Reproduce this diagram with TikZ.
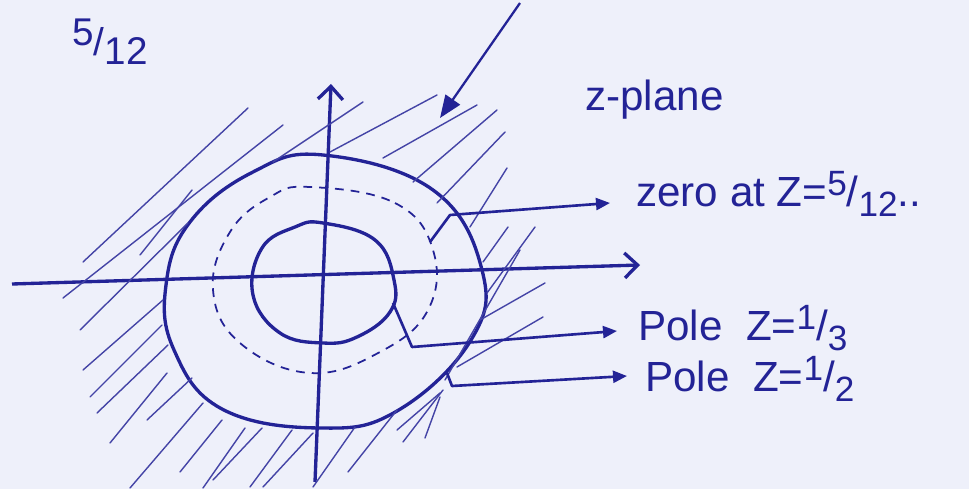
\documentclass[tikz,border=0pt]{standalone}
\usepackage{fontspec}
\setmainfont{Liberation Sans}
\usetikzlibrary{arrows.meta}
\definecolor{ink}{RGB}{35,35,150}
\definecolor{paper}{RGB}{238,240,250}
\newcommand{\hwfrac}[3]{\raisebox{0.5ex}{\fontsize{#3}{#3}\selectfont #1}/\raisebox{-0.45ex}{\fontsize{#3}{#3}\selectfont #2}}
\begin{document}
\begin{tikzpicture}[x=0.02cm,y=-0.02cm,
  axis/.style={ink, line width=1.9pt, -{Straight Barb[length=2.6mm,width=5mm]}},
  curve/.style={ink, line width=1.9pt},
  dcurve/.style={ink, line width=1pt, dash pattern=on 5pt off 4pt},
  hatch/.style={ink!85, line width=0.8pt, line cap=round},
  lead/.style={ink, line width=1.5pt, line join=round, -{Triangle[length=2.8mm,width=2.4mm]}},
  lbl/.style={ink, font=\fontsize{24}{27}\selectfont, anchor=west, inner sep=0pt}]
\fill[paper] (0,0) rectangle (969,489);
\useasboundingbox (0,0) rectangle (969,489);

% axes
\coordinate (xl) at (12,284);
\coordinate (xr) at (640,265);
\coordinate (yb) at (315,482);
\coordinate (yt) at (331,84);
\draw[axis] (xl) -- (xr);
\draw[axis] (yb) -- (yt);

% outer circle |z| = 1/2
\draw[curve] plot[smooth cycle, tension=0.7] coordinates {
 (323,155) (433,190) (482,270) (471,340) (397,411) (320,428)
 (222,409) (174,350) (166,285) (190,222) (253,172)};

% dashed circle |z| = 5/12
\draw[dcurve] plot[smooth cycle, tension=0.7] coordinates {
 (310,187) (395,203) (433,250) (428,310) (380,352) (310,373)
 (240,343) (213,290) (230,232) (270,197)};

% inner circle |z| = 1/3
\draw[curve] plot[smooth cycle, tension=0.7] coordinates {
 (323,223) (375,240) (394,280) (390,312) (357,337)
 (323,343) (280,333) (253,295) (262,248) (295,227)};

% hatching (ROC |z| > 1/2)
\foreach \xa/\ya/\xb/\yb in {
 248/108/83/262, 283/125/63/298, 363/102/273/162, 192/190/140/255, 188/223/80/330,
 330/152/437/95, 383/158/477/105, 413/182/497/110, 437/203/505/132, 470/227/507/168,
 483/262/508/227, 487/293/535/227, 480/320/545/283, 457/367/543/317, 520/250/445/380,
 440/393/397/430, 443/390/403/442, 440/397/425/438, 397/410/348/472, 355/427/313/487,
 163/300/83/370, 162/325/90/397, 168/345/97/413, 167/373/110/443, 192/378/147/420,
 203/403/130/488, 222/420/180/472, 245/428/203/488, 262/428/213/480, 292/430/250/487,
 313/433/263/487}
 \draw[hatch] (\xa,\ya) -- (\xb,\yb);

% labels
\node[ink, font=\fontsize{22}{24}\selectfont, anchor=west, inner sep=0pt] (frac) at (72,42) {\hwfrac{5}{12}{22}};
\node[lbl] (zp) at (585,100) {z-plane};
\node[lbl] (zero) at (636,194) {zero at Z=\hwfrac{5}{12}{20}..};
\node[lbl] (pole3) at (638,328) {Pole\ \ Z=\hwfrac{1}{3}{20}};
\node[lbl] (pole2) at (645,379) {Pole\ \ Z=\hwfrac{1}{2}{20}};

% leaders
\coordinate (zs) at (430,242);
\coordinate (zc) at (450,215);
\coordinate (ztip) at (610,203);
\draw[lead] (zs) -- (zc) -- (ztip);
\coordinate (p3s) at (393,303);
\coordinate (p3c) at (412,347);
\coordinate (p3tip) at (617,331);
\draw[lead] (p3s) -- (p3c) -- (p3tip);
\coordinate (p2s) at (447,373);
\coordinate (p2c) at (452,386);
\coordinate (p2tip) at (627,376);
\draw[lead] (p2s) -- (p2c) -- (p2tip);

% arrow pointing at ROC
\coordinate (rs) at (520,3);
\coordinate (rt) at (440,118);
\draw[ink, line width=1.3pt, -{Triangle[length=4.5mm,width=3.5mm]}] (rs) -- (rt);
\end{tikzpicture}
\end{document}
